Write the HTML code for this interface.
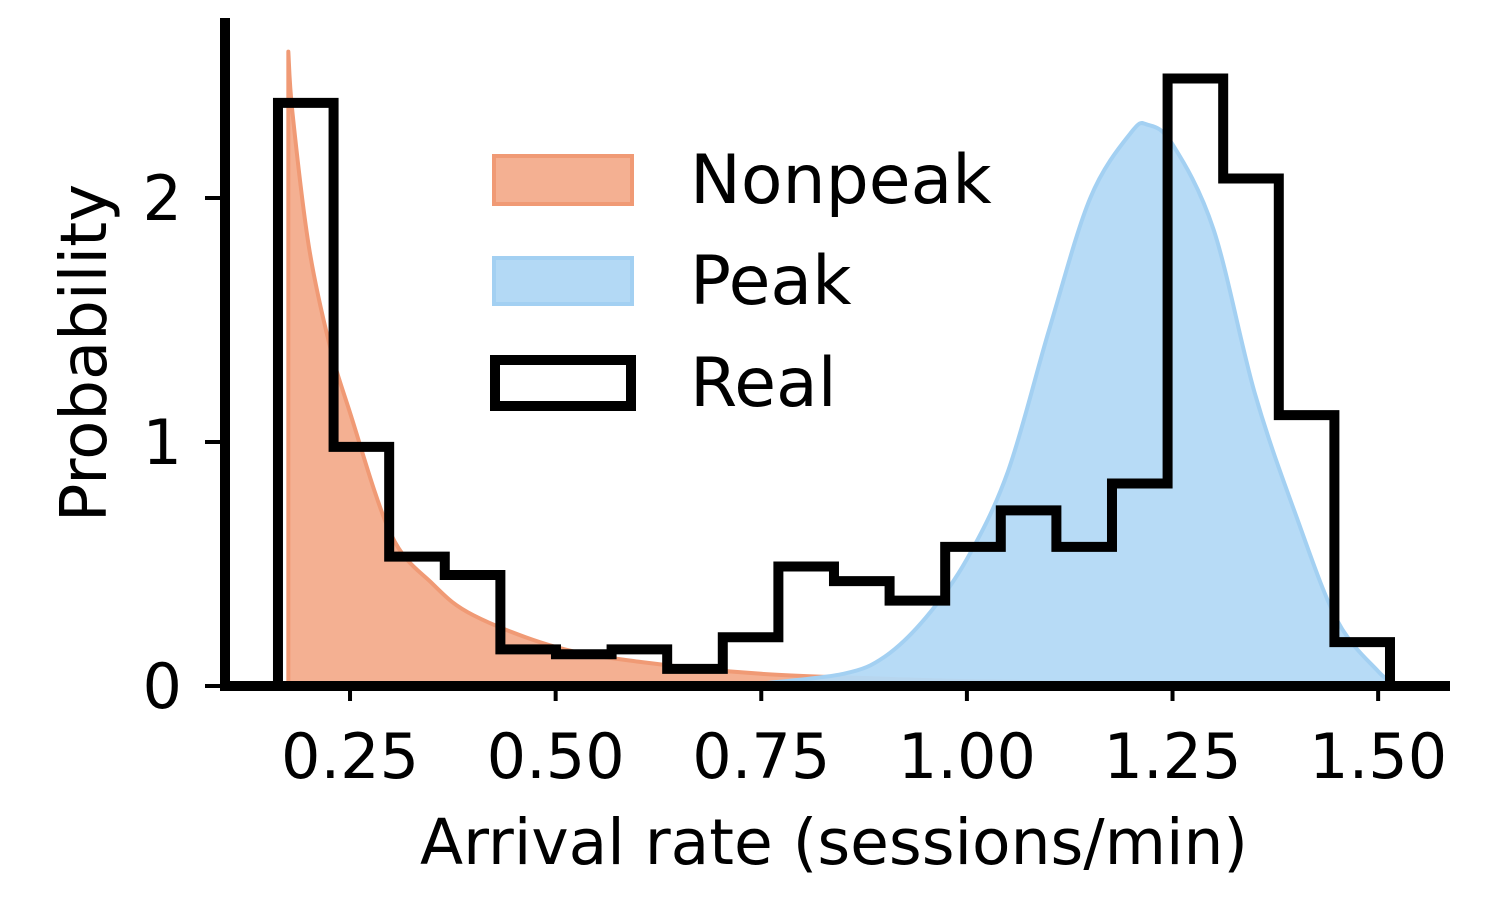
<!DOCTYPE html>
<html><head><meta charset="utf-8"><style>
html,body{margin:0;padding:0;background:#fff;width:1512px;height:906px;overflow:hidden}
svg{display:block}
text{font-family:"DejaVu Sans","Liberation Sans",sans-serif;fill:#000}
</style></head><body>
<svg id="chart" width="1512" height="906" viewBox="0 0 1512 906" xmlns="http://www.w3.org/2000/svg">
<g id="marks"></g>
<g id="axes"></g>
<g>
 <rect x="494" y="156" width="138" height="48" fill="#f2a27f" fill-opacity="0.85" stroke="#f09a75" stroke-width="4"/>
 <text x="690" y="203" font-size="68">Nonpeak</text>
 <rect x="494" y="258" width="138" height="46" fill="#b3d9f5" stroke="#a3d0f2" stroke-width="4"/>
 <text x="690" y="304" font-size="68">Peak</text>
 <rect x="495" y="360" width="136" height="46" fill="none" stroke="#000" stroke-width="10"/>
 <text x="690" y="406" font-size="68">Real</text>
</g>
<text x="834" y="864" font-size="63" text-anchor="middle">Arrival rate (sessions/min)</text>
<text transform="translate(106,353) rotate(-90)" font-size="64" text-anchor="middle">Probability</text>
</svg>
<script>
const binEdgeStart = 0.1624;
const binWidth = 0.0676;
const realCounts = [2.39,0.98,0.53,0.455,0.15,0.13,0.15,0.07,0.2,0.49,0.43,0.35,0.57,0.72,0.57,0.83,2.49,2.08,1.11,0.18];
const nonpeakX = [0.175,0.18,0.2,0.225,0.25,0.3,0.35,0.4,0.5,0.6,0.75,0.9,1.0,1.2,1.5];
const nonpeakY = [2.6,2.35,1.8,1.4,1.12,0.62,0.42,0.29,0.16,0.1,0.05,0.03,0.02,0.01,0.005];
const peakX = [0.75,0.85,0.9,0.95,1.0,1.05,1.1,1.15,1.2,1.22,1.25,1.3,1.35,1.4,1.45,1.5,1.52];
const peakY = [0.01,0.05,0.12,0.28,0.52,0.88,1.46,2.0,2.27,2.3,2.22,1.87,1.2,0.7,0.27,0.06,0.01];
const xTicks = [0.25,0.5,0.75,1.0,1.25,1.5];
const xTickLabels = ["0.25","0.50","0.75","1.00","1.25","1.50"];
const yTicks = [0,1,2];
const yTickLabels = ["0","1","2"];

const X = v => 144.4 + v*822.5;
const Y = v => 686 - v*244;
const NS = "http://www.w3.org/2000/svg";
const marks = document.getElementById('marks');
const axes = document.getElementById('axes');
function mk(tag, attrs, parent){const e=document.createElementNS(NS,tag);for(const k in attrs)e.setAttribute(k,attrs[k]);parent.appendChild(e);return e;}

function areaPath(xs, ys){
  const p = xs.map((x,i)=>[X(x),Y(ys[i])]);
  let d = `M${p[0][0]},${Y(0)} L${p[0][0]},${p[0][1]}`;
  for(let i=0;i<p.length-1;i++){
    const p0=p[Math.max(0,i-1)], p1=p[i], p2=p[i+1], p3=p[Math.min(p.length-1,i+2)];
    const c1=[p1[0]+(p2[0]-p0[0])/6, p1[1]+(p2[1]-p0[1])/6];
    const c2=[p2[0]-(p3[0]-p1[0])/6, p2[1]-(p3[1]-p1[1])/6];
    d += ` C${c1[0]},${c1[1]} ${c2[0]},${c2[1]} ${p2[0]},${p2[1]}`;
  }
  d += ` L${p[p.length-1][0]},${Y(0)} Z`;
  return d;
}
const np = mk('path',{d:areaPath(nonpeakX,nonpeakY),fill:'#f2a27f','fill-opacity':'0.85',stroke:'#f09a75','stroke-width':'4','stroke-linejoin':'round'},marks);


const pk = mk('path',{d:areaPath(peakX,peakY),fill:'#b3d9f5','fill-opacity':'0.95',stroke:'#a3d0f2','stroke-width':'4','stroke-linejoin':'round'},marks);



let d = `M${X(binEdgeStart)},${Y(0)}`;
realCounts.forEach((c,i)=>{
  const x0 = X(binEdgeStart+i*binWidth), x1 = X(binEdgeStart+(i+1)*binWidth);
  d += ` L${x0},${Y(c)} L${x1},${Y(c)}`;
});
d += ` L${X(binEdgeStart+realCounts.length*binWidth)},${Y(0)}`;
const hist = mk('path',{d:d,fill:'none',stroke:'#000','stroke-width':'10','stroke-linejoin':'miter'},marks);



const sl = mk('line',{x1:225,y1:18,x2:225,y2:691,stroke:'#000','stroke-width':'10'},axes);


const sb = mk('line',{x1:220,y1:686,x2:1450,y2:686,stroke:'#000','stroke-width':'10'},axes);



xTicks.forEach((v,i)=>{
  const t = mk('line',{x1:X(v),y1:686,x2:X(v),y2:701,stroke:'#000','stroke-width':'4'},axes);
  
  
  const l = mk('text',{x:X(v),y:778,'font-size':'62','text-anchor':'middle'},axes);
  l.textContent = xTickLabels[i];
  
  
});
yTicks.forEach((v,i)=>{
  const t = mk('line',{x1:205,y1:Y(v),x2:222,y2:Y(v),stroke:'#000','stroke-width':'4'},axes);
  
  
  const l = mk('text',{x:182,y:Y(v)+22,'font-size':'62','text-anchor':'end'},axes);
  l.textContent = yTickLabels[i];
  
  
});
</script>
</body></html>
